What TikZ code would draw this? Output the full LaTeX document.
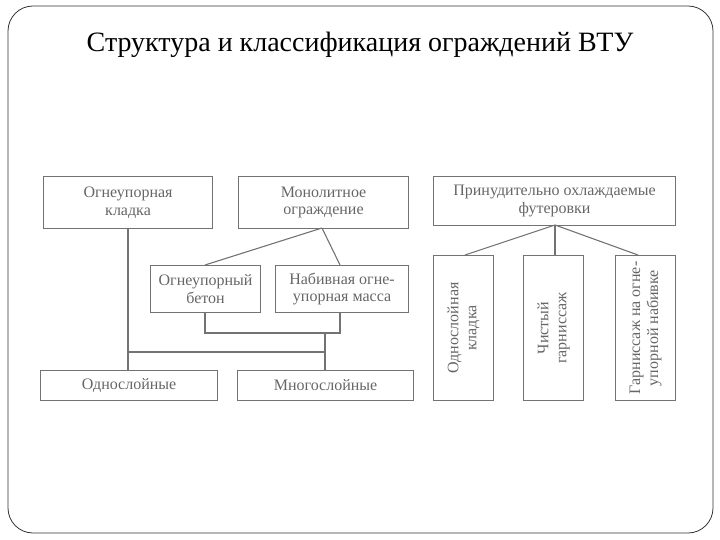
\documentclass[tikz,border=0pt]{standalone}
\usepackage{fontspec}
\setmainfont{Liberation Serif}
\begin{document}
\begin{tikzpicture}[x=1pt,y=-1pt,
  box/.style={draw=black!55,line width=1.1pt,text=black!60,align=center,font=\fontsize{16}{17.5}\selectfont,inner sep=0pt,anchor=north west},
  vtext/.style={rotate=90,text=black!60,align=center,font=\fontsize{16}{18}\selectfont},
  ln/.style={draw=black!55,line width=1.1pt}]
\useasboundingbox (0,0) rectangle (720,540);
\draw[black!80,line width=0.8pt,rounded corners=25pt] (8,6) rectangle (713,533);
\node[font=\fontsize{28}{32}\selectfont] (title) at (360,45) {Структура и классификация ограждений ВТУ};
\node[box,minimum width=169pt,minimum height=52pt] (ok) at (43,176) {Огнеупорная\\кладка};
\node[box,minimum width=170pt,minimum height=52pt] (mo) at (238,176) {Монолитное\\ограждение};
\node[box,minimum width=242pt,minimum height=49pt] (pf) at (433,176) {Принудительно охлаждаемые\\футеровки};
\node[box,minimum width=110pt,minimum height=47pt] (ob) at (150,265) {Огнеупорный\\бетон};
\node[box,minimum width=133pt,minimum height=47pt] (nm) at (275,265) {Набивная огне-\\упорная масса};
\node[box,minimum width=177pt,minimum height=30pt] (os) at (40,370) {Однослойные};
\node[box,minimum width=176pt,minimum height=30pt] (ms) at (237,370) {Многослойные};
\node[box,minimum width=60pt,minimum height=145pt] (vk) at (433,255) {};
\node[box,minimum width=60pt,minimum height=145pt] (vg) at (523,255) {};
\node[box,minimum width=60pt,minimum height=145pt] (vn) at (615,255) {};
\node[vtext] (tk) at (vk.center) {Однослойная\\кладка};
\node[vtext] (tg) at (vg.center) {Чистый\\гарниссаж};
\node[vtext] (tn) at (vn.center) {Гарниссаж на огне-\\упорной набивке};
% left connectors
\coordinate (okb) at (128,228);
\coordinate (osT) at (128,370);
\draw[ln] (okb) -- (osT);
\coordinate (mob) at (322,228);
\coordinate (obT) at (205,265);
\coordinate (nmT) at (340,265);
\draw[ln] (mob) -- (obT);
\draw[ln] (mob) -- (nmT);
\coordinate (obB) at (205,312);
\coordinate (nmB) at (340,312);
\coordinate (j1) at (205,333);
\coordinate (j2) at (340,333);
\draw[ln] (obB) -- (j1) -- (j2) -- (nmB);
\coordinate (j3) at (325,333);
\coordinate (msT) at (325,370);
\draw[ln] (j3) -- (msT);
\coordinate (h1) at (128,352);
\coordinate (h2) at (325,352);
\draw[ln] (h1) -- (h2);
% right connectors
\coordinate (pfb) at (555,225);
\coordinate (vkT) at (465,255);
\coordinate (vgT) at (555,255);
\coordinate (vnT) at (638,255);
\draw[ln] (pfb) -- (vkT);
\draw[ln] (pfb) -- (vgT);
\draw[ln] (pfb) -- (vnT);
\end{tikzpicture}
\end{document}
